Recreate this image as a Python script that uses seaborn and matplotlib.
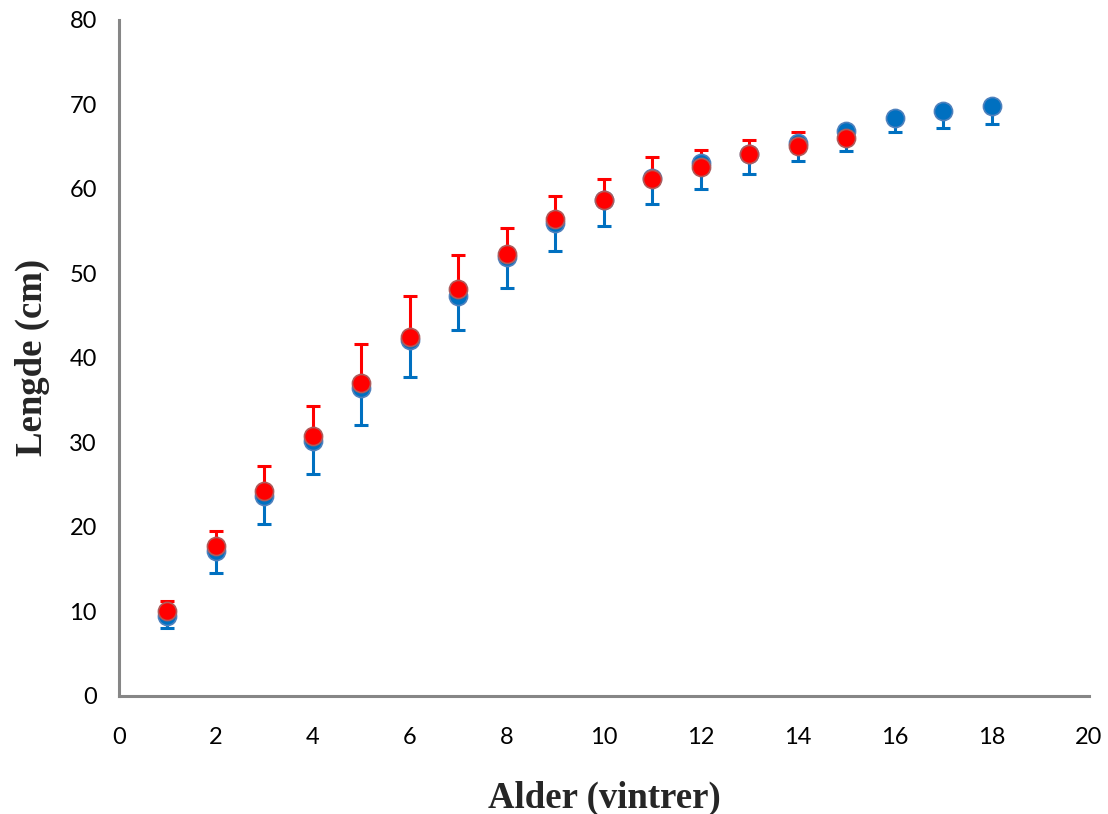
import matplotlib
matplotlib.use("Agg")
import matplotlib.pyplot as plt
import seaborn as sns
import pandas as pd

# Mean length at age, with one-sided spread (lower for blue, upper for red)
ages_blue = [1, 2, 3, 4, 5, 6, 7, 8, 9, 10, 11, 12, 13, 14, 15, 16, 17, 18]
mean_blue = [9.4, 17.2, 23.7, 30.2, 36.4, 42.1, 47.3, 51.9, 55.9, 58.6,
             61.2, 63.0, 64.1, 65.4, 66.8, 68.4, 69.2, 69.8]
low_blue = [8.0, 14.5, 20.3, 26.3, 32.1, 37.7, 43.3, 48.3, 52.6, 55.6,
            58.2, 60.0, 61.7, 63.3, 64.5, 66.7, 67.2, 67.7]

ages_red = [1, 2, 3, 4, 5, 6, 7, 8, 9, 10, 11, 12, 13, 14, 15]
mean_red = [10.1, 17.7, 24.3, 30.7, 37.0, 42.5, 48.1, 52.3, 56.4, 58.7,
            61.1, 62.6, 64.1, 65.1, 66.0]
high_red = [11.2, 19.5, 27.2, 34.3, 41.6, 47.3, 52.2, 55.4, 59.1, 61.1,
            63.7, 64.6, 65.8, 66.7, 66.0]

x_ticks = [0, 2, 4, 6, 8, 10, 12, 14, 16, 18, 20]
y_ticks = [0, 10, 20, 30, 40, 50, 60, 70, 80]

BLUE = "#0070C0"
RED = "#FF0000"
AXIS_GREY = "#868686"

sns.set_style("white")
plt.rcParams["font.family"] = ["Lato", "DejaVu Sans"]

df_blue = pd.DataFrame({"alder": ages_blue, "lengde": mean_blue})
df_red = pd.DataFrame({"alder": ages_red, "lengde": mean_red})

fig = plt.figure(figsize=(11.08, 8.14), dpi=100)
ax = fig.add_axes([0.1074, 0.145, 0.8754, 0.831])

# One-sided error bars
blue_err = [[m - l for m, l in zip(mean_blue, low_blue)], [0] * len(mean_blue)]
red_err = [[0] * len(mean_red), [h - m for m, h in zip(mean_red, high_red)]]
ax.errorbar(ages_blue, mean_blue, yerr=blue_err, fmt="none", ecolor=BLUE,
            elinewidth=2.2, capsize=4.7, capthick=2.2, zorder=2)
ax.errorbar(ages_red, mean_red, yerr=red_err, fmt="none", ecolor=RED,
            elinewidth=2.2, capsize=4.7, capthick=2.2, zorder=2)

sns.scatterplot(data=df_blue, x="alder", y="lengde", ax=ax, s=170,
                color=BLUE, edgecolor="#4F81BD", linewidth=1.2, zorder=3)
sns.scatterplot(data=df_red, x="alder", y="lengde", ax=ax, s=170,
                color=RED, edgecolor="#B05A5A", linewidth=1.2, zorder=4)

ax.set_xlim(0, 20)
ax.set_ylim(0, 80)
ax.set_xticks(x_ticks)
ax.set_yticks(y_ticks)
ax.set_xticklabels([str(t) for t in x_ticks])
ax.set_yticklabels([str(t) for t in y_ticks])

for side in ["top", "right"]:
    ax.spines[side].set_visible(False)
for side in ["left", "bottom"]:
    ax.spines[side].set_color(AXIS_GREY)
    ax.spines[side].set_linewidth(2.2)

ax.tick_params(axis="both", direction="out", length=6, width=2.2,
               color=AXIS_GREY, labelsize=17, labelcolor="black")
ax.tick_params(axis="x", pad=16)
ax.tick_params(axis="y", pad=10)

label_font = dict(family=["Liberation Serif", "DejaVu Serif"],
                  weight="bold", size=26.5)
ax.set_xlabel("Alder (vintrer)", labelpad=24, **label_font)
ax.set_ylabel("Lengde (cm)", labelpad=14, **label_font)

fig.savefig("out.png", dpi=100)
